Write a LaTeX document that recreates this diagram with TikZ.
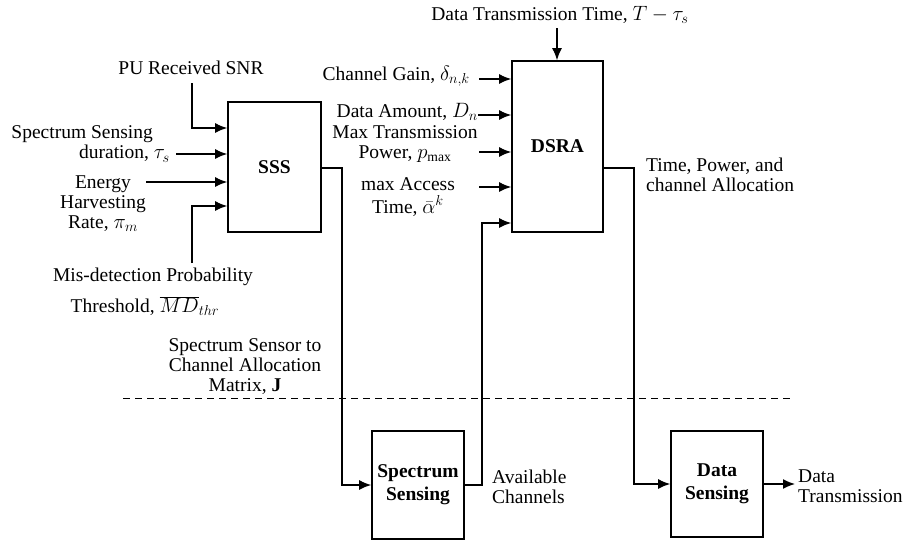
\documentclass[tikz,border=0pt]{standalone}
\usepackage{fontspec}
\setmainfont{Liberation Serif}
\usetikzlibrary{arrows.meta}
\begin{document}
\begin{tikzpicture}[x=1pt,y=-1pt,
  every node/.style={font=\rmfamily\fontsize{19.5}{20}\selectfont, inner sep=0pt},
  blk/.style={draw, line width=1.6pt, font=\rmfamily\fontsize{19.5}{23}\selectfont\bfseries, align=center},
  conn/.style={line width=1.5pt, -{Latex[length=12pt,width=10pt]}},
  lbl/.style={align=center}]
\useasboundingbox (0,0) rectangle (908,544);
% blocks
\node[blk, minimum width=93pt, minimum height=130pt] (sss) at (274.5,167) {SSS};
\node[blk, minimum width=91pt, minimum height=171pt] (dsra) at (557.5,146.5) {DSRA};
\node[blk, minimum width=92pt, minimum height=108pt] (spec) at (418,485) {Spectrum\\Sensing};
\node[blk, minimum width=92pt, minimum height=106pt] (data) at (717,484) {Data\\Sensing};
% SSS inputs
\node[lbl] (snr) at (191,68) {PU Received SNR};
\coordinate (snrs) at (192,83);
\draw[conn] (snrs) |- (sss.west |- 0,128);
\node[align=right, anchor=east] (dur) at (170,144) {Spectrum Sensing\hspace*{17pt}\\duration, $\tau_s$};
\coordinate (durs) at (176,154);
\draw[conn] (durs) -- (sss.west |- 0,154);
\node[lbl] (ehr) at (103,204) {Energy\\Harvesting\\Rate, $\pi_m$};
\coordinate (ehrs) at (146,182);
\draw[conn] (ehrs) -- (sss.west |- 0,182);
\coordinate (mds) at (192,263);
\draw[conn] (mds) |- (sss.west |- 0,206);
\node[lbl] (md) at (153,277) {Mis-detection Probability};
\node[lbl] (mdt) at (145,306) {Threshold, $\overline{MD}_{thr}$};
% DSRA inputs
\node[lbl] (dtt) at (560,15) {Data Transmission Time, $T-\tau_s$};
\coordinate (dtts) at (557,28);
\draw[conn] (dtts) -- (dsra.north -| 557,0);
\node[anchor=east] (cg) at (470,76) {Channel Gain, $\delta_{n,k}$};
\coordinate (cgs) at (479,79);
\draw[conn] (cgs) -- (dsra.west |- 0,79);
\node[anchor=east] (da) at (478,112) {Data Amount, $D_n$};
\coordinate (das) at (478,115);
\draw[conn] (das) -- (dsra.west |- 0,115);
\node[lbl] (mtp) at (405,144) {Max Transmission\\Power, $p_{\max}$};
\coordinate (mtps) at (479,152);
\draw[conn] (mtps) -- (dsra.west |- 0,152);
\node[lbl, font=\rmfamily\fontsize{19.5}{23}\selectfont] (mat) at (408,197) {$\max$ Access\\Time, $\bar{\alpha}^{k}$};
\coordinate (mats) at (479,187);
\draw[conn] (mats) -- (dsra.west |- 0,187);
% flows
\draw[conn] (sss.east |- 0,168) -| (342,300) |- (spec.west);
\draw[conn] (spec.east) -| (482,300) |- (dsra.west |- 0,223);
\draw[conn] (dsra.east |- 0,168) -| (634,300) |- (data.west);
\coordinate (dtx) at (795,484);
\draw[conn] (data.east) -- (dtx);
% output labels
\node[align=left, anchor=west] (tpa) at (646,175) {Time, Power, and\\channel Allocation};
\node[align=left, anchor=west] (avc) at (492,487) {Available\\Channels};
\node[align=left, anchor=west] (dtl) at (798,486) {Data\\Transmission};
\node[lbl] (j) at (245,367) {Spectrum Sensor to\\Channel Allocation\\Matrix, \textbf{J}};
% dashed separator
\coordinate (dl) at (123,398);
\coordinate (dr) at (790,398);
\draw[line width=1pt, dash pattern=on 7pt off 5pt] (dl) -- (dr);
\end{tikzpicture}
\end{document}
